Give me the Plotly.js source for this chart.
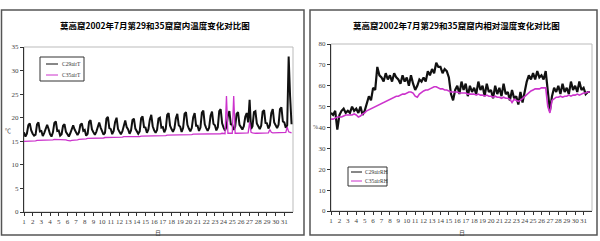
<!DOCTYPE html>
<html><head><meta charset="utf-8">
<script src="https://cdn.plot.ly/plotly-3.0.1.min.js"></script>
<style>html,body{margin:0;padding:0;background:#fff}#c{width:600px;height:241px}</style>
</head><body><div id="c"></div>
<script>
const titleT = '莫高窟2002年7月第29和35窟窟内温度变化对比图';
const titleRH = '莫高窟2002年7月第29和35窟窟内相对湿度变化对比图';
const seriesT = ['C29airT', 'C35airT'];
const seriesRH = ['C29airRH', 'C35airRH'];
const dayTicks = [1,2,3,4,5,6,7,8,9,10,11,12,13,14,15,16,17,18,19,20,21,22,23,24,25,26,27,28,29,30,31];
const dayLabels = ['1','2','3','4','5','6','7','8','9','10','11','12','13','14','15','16','17','18','19','20','21','22','23','24','25','26','27','28','29','30','31'];

// temperature, 6 readings per day (every 4 h)
const C29airT = [
16.9,16.0,16.6,18.4,18.8,17.3, 16.6,16.2,16.4,18.6,19.0,17.1, 17.2,16.1,16.8,17.6,18.5,17.6,
16.5,16.0,16.9,18.9,19.2,17.2, 17.3,16.2,16.5,18.3,18.6,17.0, 16.6,16.0,16.7,17.6,18.4,17.5,
16.8,16.3,16.9,18.5,18.8,17.2, 17.4,16.2,16.6,19.1,19.5,17.5, 16.9,16.4,17.0,18.2,19.0,17.9,
17.0,16.4,16.8,19.8,20.2,17.8, 17.6,16.5,17.2,19.1,20.0,17.6, 17.0,16.5,17.1,18.6,19.4,18.0,
17.5,16.6,17.3,19.5,19.8,17.7, 17.2,16.6,17.1,19.9,20.3,18.0, 17.9,16.8,17.5,19.6,20.6,18.2,
17.3,16.8,17.4,19.8,20.0,17.9, 18.0,16.9,17.6,20.6,21.0,18.3, 17.6,17.0,17.7,19.9,20.8,18.4,
18.1,17.0,17.8,20.8,21.2,18.5, 17.7,17.1,17.8,20.1,21.0,18.3, 18.3,17.2,17.9,21.1,21.5,18.6,
17.8,17.2,17.9,20.4,21.3,18.7, 18.4,17.3,18.0,21.4,21.8,18.8, 17.9,17.3,18.1,20.5,21.4,18.6,
18.5,17.4,18.1,20.8,21.2,18.5, 18.0,17.5,18.2,20.2,21.0,19.0, 23.8,17.6,18.2,21.2,21.4,18.8,
18.2,17.6,18.3,21.3,21.6,18.9, 18.8,17.7,18.4,21.0,21.8,19.0, 18.4,17.8,18.5,21.8,22.2,19.2,
19.0,17.9,18.4,33.0,24.5,18.6
];
const C35airT = [
15.0,15.0,15.0,15.1,15.1,15.1, 15.1,15.1,15.1,15.2,15.2,15.2, 15.2,15.2,15.2,15.3,15.3,15.3,
15.3,15.3,15.3,15.4,15.4,15.4, 15.4,15.4,15.4,15.4,15.4,15.3, 15.2,15.1,15.1,15.2,15.2,15.3,
15.3,15.3,15.4,15.4,15.5,15.5, 15.5,15.5,15.6,15.6,15.6,15.6, 15.6,15.6,15.7,15.7,15.7,15.7,
15.7,15.7,15.8,15.8,15.8,15.8, 15.8,15.8,15.9,15.9,15.9,15.9, 15.9,15.9,15.9,16.0,16.0,16.0,
15.9,15.9,16.0,16.0,16.0,16.0, 16.0,16.0,16.0,16.1,16.1,16.1, 16.1,16.1,16.1,16.1,16.2,16.2,
16.1,16.1,16.2,16.2,16.2,16.2, 16.2,16.2,16.2,16.3,16.3,16.3, 16.3,16.3,16.3,16.3,16.4,16.4,
16.3,16.3,16.4,16.4,16.4,16.4, 16.4,16.4,16.4,16.5,16.5,16.5, 16.5,16.5,16.5,16.5,16.5,16.5,
16.5,16.5,16.5,16.6,16.6,16.6, 16.6,16.6,16.6,16.6,16.6,16.7, 16.6,16.6,24.6,16.7,16.7,16.7,
16.7,24.6,16.7,16.7,16.7,16.7, 16.7,16.7,16.7,16.7,16.8,16.8, 19.0,16.9,16.8,16.7,16.7,16.7,
16.7,16.7,16.7,16.8,16.8,16.8, 16.8,16.8,17.5,16.9,16.8,16.8, 16.8,16.8,16.8,16.9,16.9,16.9,
16.9,16.9,18.0,17.0,16.9,16.8
];

// relative humidity, 4 readings per day (every 6 h)
const C29airRH = [
47,46,48,39, 46,48,49,47, 48,47,50,48, 49,47,50,46, 48,51,55,53, 59,58,69,65,
64,62,66,63, 65,62,66,64, 63,61,65,62, 64,60,65,61, 58,60,63,62, 64,62,67,65,
68,66,71,69, 69,66,68,67, 64,56,53,58, 60,56,62,58, 61,55,60,57, 59,56,62,58,
60,55,61,57, 58,54,60,56, 59,55,61,56, 57,53,58,54, 55,51,57,52, 58,62,65,63,
66,63,67,64, 65,63,67,56, 48,55,59,57, 60,56,61,57, 59,56,62,58, 60,57,62,58,
59,56,57,57
];
const C35airRH = [
44,44,44.5,45, 45,45,45.5,46, 46,46,46,46.5, 46,45,45.5,46.5, 47,48,48.5,49, 49.5,50,50.5,51,
51.5,52,52.5,53, 53.5,54,54.5,55, 55,55.5,56,56, 56.5,57,57,56.5, 55,54.5,56,57, 57.5,58,58,58.5,
59,59.5,59.5,59, 58.5,58.5,58,58, 57.5,57,57,57, 57,56.5,56.5,56.5, 56.5,56,56,56, 56,55.5,56,55.5,
55.5,55,55.5,55, 55,54.5,55,54.5, 54.5,54,54.5,54, 54,53.5,52,53.5, 53,52.5,53,54, 55,56,57,57.5,
58,58.5,58.5,58.5, 59,59,59,50, 47,53,54,54.5, 54.5,55,54.5,55, 55,55.5,55,55.5, 55.5,56,55.5,56,
56.5,56.5,57,57
];

const tT = C29airT.map((_, i) => 1 + i / 6);
const tRH = C29airRH.map((_, i) => 1 + i / 4);

const W = 600, H = 241;
const px = x => x / W, py = y => 1 - y / H;
const BLACK = '#111', MAG = '#cc33cc';

const traces = [
  {x: tT, y: C29airT, name: seriesT[0], type: 'scatter', mode: 'lines', line: {color: BLACK, width: 2}, xaxis: 'x', yaxis: 'y'},
  {x: tT, y: C35airT, name: seriesT[1], type: 'scatter', mode: 'lines', line: {color: MAG, width: 1.3}, xaxis: 'x', yaxis: 'y'},
  {x: tRH, y: C29airRH, name: seriesRH[0], type: 'scatter', mode: 'lines', line: {color: BLACK, width: 2.2}, xaxis: 'x2', yaxis: 'y2'},
  {x: tRH, y: C35airRH, name: seriesRH[1], type: 'scatter', mode: 'lines', line: {color: MAG, width: 1.6}, xaxis: 'x2', yaxis: 'y2'}
];

const tickFont = {family: 'Liberation Serif, serif', size: 7, color: '#444'};
const xBase = {range: [1, 32], tickvals: dayTicks, ticktext: dayLabels, tickangle: 0, tickfont: tickFont,
  showline: true, linecolor: '#333', linewidth: 1, ticks: 'outside', ticklen: 3, tickcolor: '#333',
  showgrid: false, zeroline: false, fixedrange: true};
const yBase = {tickfont: tickFont, showline: true, linecolor: '#333', linewidth: 1, ticks: 'outside', ticklen: 3,
  tickcolor: '#333', showgrid: false, zeroline: false, fixedrange: true};

const L = {x0: 24, x1: 293, y0: 47, y1: 212};
const R = {x0: 331, x1: 592, y0: 44, y1: 211};

function legendShapes(box, l1, l2, c1, c2) {
  return [
    {type: 'rect', xref: 'paper', yref: 'paper', x0: px(box[0]), x1: px(box[1]), y0: py(box[2]), y1: py(box[3]), line: {color: '#333', width: 1}},
    {type: 'line', xref: 'paper', yref: 'paper', x0: px(l1[0]), x1: px(l1[1]), y0: py(l1[2]), y1: py(l1[2]), line: {color: c1, width: 1}},
    {type: 'line', xref: 'paper', yref: 'paper', x0: px(l2[0]), x1: px(l2[1]), y0: py(l2[2]), y1: py(l2[2]), line: {color: c2, width: 1}}
  ];
}
const legFont = {family: 'Liberation Serif, serif', size: 5.5, color: '#333'};
const ann = (text, x, y, font, xa) => ({text: text, xref: 'paper', yref: 'paper', x: px(x), y: py(y),
  xanchor: xa || 'center', yanchor: 'middle', showarrow: false, font: font});
const titleFont = {family: 'Noto Sans CJK SC', size: 8.5, color: '#000'};
const smallCJK = {family: 'Noto Sans CJK SC', size: 6, color: '#444'};

const layout = {
  width: W, height: H, margin: {l: 0, r: 0, t: 0, b: 0},
  paper_bgcolor: '#fff', plot_bgcolor: '#fff', showlegend: false,
  xaxis: Object.assign({}, xBase, {domain: [px(L.x0), px(L.x1)], anchor: 'y'}),
  yaxis: Object.assign({}, yBase, {domain: [py(L.y1), py(L.y0)], range: [0, 35], dtick: 5, anchor: 'x'}),
  xaxis2: Object.assign({}, xBase, {domain: [px(R.x0), px(R.x1)], anchor: 'y2'}),
  yaxis2: Object.assign({}, yBase, {domain: [py(R.y1), py(R.y0)], range: [0, 80], dtick: 10, anchor: 'x2'}),
  shapes: [
    {type: 'rect', xref: 'paper', yref: 'paper', x0: px(1.5), x1: px(304), y0: py(235), y1: py(10), line: {color: '#555', width: 1.5}},
    {type: 'rect', xref: 'paper', yref: 'paper', x0: px(310), x1: px(597), y0: py(235), y1: py(10), line: {color: '#555', width: 1.5}},
    {type: 'rect', xref: 'paper', yref: 'paper', x0: px(L.x0), x1: px(L.x1), y0: py(L.y1), y1: py(L.y0), line: {color: '#bbb', width: 1}, layer: 'below'},
    {type: 'rect', xref: 'paper', yref: 'paper', x0: px(R.x0), x1: px(R.x1), y0: py(R.y1), y1: py(R.y0), line: {color: '#bbb', width: 1}, layer: 'below'}
  ].concat(
    legendShapes([40, 84, 57, 81], [46, 58, 64], [46, 58, 75], BLACK, MAG),
    legendShapes([348, 387, 167, 186], [351, 362, 172], [351, 362, 181], BLACK, MAG)
  ),
  annotations: [
    ann('<b>' + titleT + '</b>', 155, 25, titleFont),
    ann('<b>' + titleRH + '</b>', 456, 25, titleFont),
    ann('℃', 8, 130, smallCJK),
    ann('%', 316, 127, {family: 'Liberation Serif', size: 6, color: '#444'}),
    ann('日', 158, 232, smallCJK),
    ann('日', 462, 232, smallCJK),
    ann(seriesT[0], 60, 64, legFont, 'left'),
    ann(seriesT[1], 60, 75, legFont, 'left'),
    ann(seriesRH[0], 363, 172, legFont, 'left'),
    ann(seriesRH[1], 363, 181, legFont, 'left')
  ]
};

Plotly.newPlot('c', traces, layout, {displayModeBar: false, staticPlot: true});
</script>
</body></html>
